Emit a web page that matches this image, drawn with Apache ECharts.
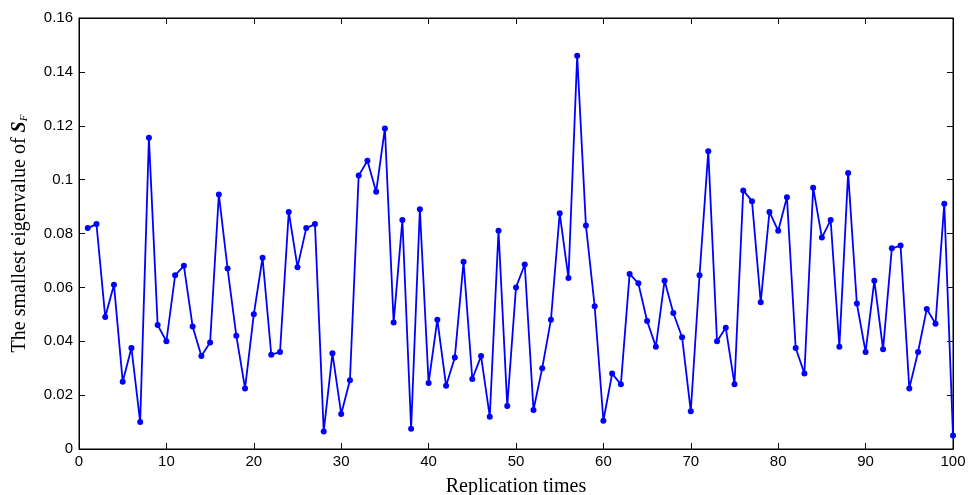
<!DOCTYPE html>
<html><head><meta charset="utf-8">
<script src="https://cdn.jsdelivr.net/npm/echarts@6/dist/echarts.min.js"></script>
<style>html,body{margin:0;padding:0;background:#fff}#c{width:968px;height:495px}</style>
</head><body><div id="c"></div>
<script>
const replications = Array.from({length:100}, (_, i) => i + 1);
const eigenValues = [
0.082,0.0835,0.049,0.061,0.025,0.0375,0.010,0.1155,0.046,0.040,
0.0645,0.068,0.0455,0.0345,0.0395,0.0945,0.067,0.042,0.0225,0.050,
0.071,0.035,0.036,0.088,0.0675,0.082,0.0835,0.0065,0.0355,0.013,
0.0255,0.1015,0.107,0.0955,0.119,0.047,0.085,0.0075,0.089,0.0245,
0.048,0.0235,0.034,0.0695,0.026,0.0345,0.012,0.081,0.016,0.060,
0.0685,0.0145,0.030,0.048,0.0875,0.0635,0.146,0.083,0.053,0.0105,
0.028,0.024,0.065,0.0615,0.0475,0.038,0.0625,0.0505,0.0415,0.014,
0.0645,0.1105,0.040,0.045,0.024,0.096,0.092,0.0545,0.088,0.081,
0.0935,0.0375,0.028,0.097,0.0785,0.085,0.038,0.1025,0.054,0.036,
0.0625,0.037,0.0745,0.0755,0.0225,0.036,0.052,0.0465,0.091,0.005
];
const xTicks = [0,10,20,30,40,50,60,70,80,90,100];
const yTicks = [0,0.02,0.04,0.06,0.08,0.1,0.12,0.14,0.16];

const chart = echarts.init(document.getElementById('c'));
const labelFont = () => ({fontFamily:'Liberation Sans, Arial, sans-serif', fontSize:15, color:'#000'});
const tickStyle = () => ({show:true, inside:true, length:6, lineStyle:{color:'#000', width:1}});
const lineStyle = () => ({show:true, onZero:false, lineStyle:{color:'#000', width:1}});
const serif = 'Liberation Serif, Times New Roman, serif';
chart.setOption({
  animation:false,
  grid:{left:79, right:15, top:18, bottom:46, containLabel:false, outerBoundsMode:'none',
        show:true, borderColor:'#000', borderWidth:1},
  xAxis:[{
    type:'value', min:0, max:100, interval:10,
    axisLine:lineStyle(), axisTick:tickStyle(), splitLine:{show:false},
    axisLabel:Object.assign({margin:5, formatter:v=>String(v)}, labelFont()),
    name:'Replication times', nameLocation:'middle', nameGap:28,
    nameTextStyle:{fontFamily:serif, fontSize:20, color:'#000'}
  },{
    type:'value', min:0, max:100, interval:10, position:'top',
    axisLine:lineStyle(), axisTick:tickStyle(),
    axisLabel:{show:false}, splitLine:{show:false}
  }],
  yAxis:[{
    type:'value', min:0, max:0.16, interval:0.02,
    axisLine:lineStyle(), axisTick:tickStyle(), splitLine:{show:false},
    axisLabel:Object.assign({margin:6}, labelFont()),
    name:'{a|The smallest eigenvalue of }{b|S}{c|F}', nameLocation:'middle', nameGap:49,
    nameTextStyle:{
      rich:{
        a:{fontFamily:serif, fontSize:20, color:'#000'},
        b:{fontFamily:serif, fontSize:20, fontWeight:'bold', fontStyle:'italic', color:'#000'},
        c:{fontFamily:serif, fontSize:11, fontStyle:'italic', color:'#000', padding:[9,0,0,0]}
      }
    }
  },{
    type:'value', min:0, max:0.16, interval:0.02, position:'right',
    axisLine:lineStyle(), axisTick:tickStyle(),
    axisLabel:{show:false}, splitLine:{show:false}
  }],
  series:[{
    type:'line', xAxisIndex:0, yAxisIndex:0,
    data: replications.map((x,i)=>[x, eigenValues[i]]),
    symbol:'circle', symbolSize:6, showSymbol:true,
    lineStyle:{color:'#0000ff', width:1.8},
    itemStyle:{color:'#0000ff'}
  }]
});
</script></body></html>
